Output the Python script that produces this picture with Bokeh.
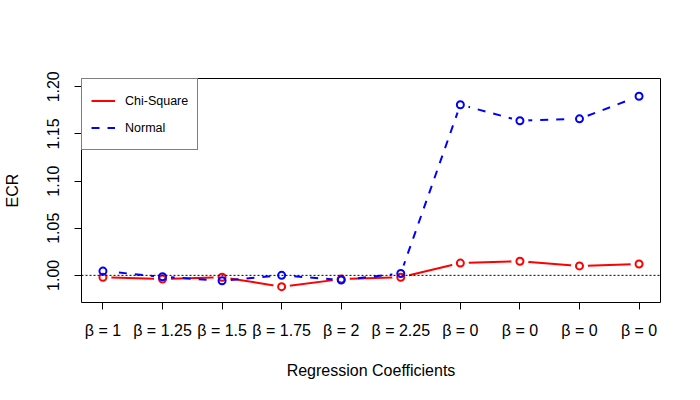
from bokeh.plotting import figure
from bokeh.models import FixedTicker, Range1d, Legend, LegendItem, Span
from bokeh.embed import file_html
from bokeh.resources import INLINE

# ---- data ----
x_labels = ["β = 1", "β = 1.25", "β = 1.5", "β = 1.75", "β = 2",
            "β = 2.25", "β = 0", "β = 0", "β = 0", "β = 0"]
x_pos = [1, 2, 3, 4, 5, 6, 7, 8, 9, 10]
chi_square = [0.998, 0.996, 0.998, 0.988, 0.996, 0.998, 1.013, 1.015, 1.010, 1.012]
normal = [1.0045, 0.9985, 0.9943, 1.000, 0.995, 1.002, 1.181, 1.164, 1.166, 1.190]
y_ticks = [1.00, 1.05, 1.10, 1.15, 1.20]
y_tick_labels = ["1.00", "1.05", "1.10", "1.15", "1.20"]
ref_level = 1.0

FONT = "Liberation Sans"

p = figure(width=684, height=384, output_backend="svg", toolbar_location=None,
           x_range=Range1d(0.64, 10.36), y_range=Range1d(0.9712, 1.2088),
           min_border_left=78, min_border_right=24, min_border_top=78,
           min_border_bottom=82)
p.background_fill_color = "white"
p.border_fill_color = "white"
p.outline_line_color = "black"
p.outline_line_width = 1
p.xgrid.visible = False
p.ygrid.visible = False

# axes
p.xaxis.ticker = FixedTicker(ticks=x_pos)
p.xaxis.major_label_overrides = {x: lab for x, lab in zip(x_pos, x_labels)}
p.yaxis.ticker = FixedTicker(ticks=y_ticks)
p.yaxis.major_label_overrides = {t: lab for t, lab in zip(y_ticks, y_tick_labels)}
p.yaxis.major_label_orientation = "vertical"
for ax in (p.xaxis, p.yaxis):
    ax.axis_line_color = None
    ax.major_tick_in = 0
    ax.major_tick_out = 7
    ax.major_tick_line_color = "black"
    ax.minor_tick_line_color = None
    ax.major_label_text_font = FONT
    ax.major_label_text_font_size = "16px"
    ax.major_label_text_color = "black"
    ax.axis_label_text_font = FONT
    ax.axis_label_text_font_size = "16px"
    ax.axis_label_text_font_style = "normal"
    ax.axis_label_text_color = "black"
p.xaxis.axis_label = "Regression Coefficients"
p.yaxis.axis_label = "ECR"
p.xaxis.major_label_standoff = 12
p.xaxis.axis_label_standoff = 20
p.yaxis.major_label_standoff = 15
p.yaxis.axis_label_standoff = 24

# lines
r_chi = p.line(x_pos, chi_square, line_color="red", line_width=2)
r_norm = p.line(x_pos, normal, line_color="blue", line_width=2, line_dash="8 8")

# gaps around points (type="b" look)
p.scatter(x_pos, chi_square, size=17, fill_color="white", line_color=None)
p.scatter(x_pos, normal, size=17, fill_color="white", line_color=None)

# reference line
p.add_layout(Span(location=ref_level, dimension="width", line_color="black",
                  line_width=1, line_dash="2 2"))

# points
p.scatter(x_pos, chi_square, size=7, fill_color=None, line_color="red", line_width=2)
p.scatter(x_pos, normal, size=7, fill_color=None, line_color="blue", line_width=2)

legend = Legend(items=[LegendItem(label="Chi-Square", renderers=[r_chi]),
                       LegendItem(label="Normal", renderers=[r_norm])],
                location="top_left", margin=0, padding=9, spacing=2,
                glyph_width=24, glyph_height=25, label_height=25,
                label_standoff=10,
                label_text_font=FONT, label_text_font_size="12.5px",
                label_text_color="black",
                border_line_color="black", border_line_width=1,
                background_fill_color="white", background_fill_alpha=1.0)
p.add_layout(legend)

open("out.html", "w").write(file_html(p, INLINE))
